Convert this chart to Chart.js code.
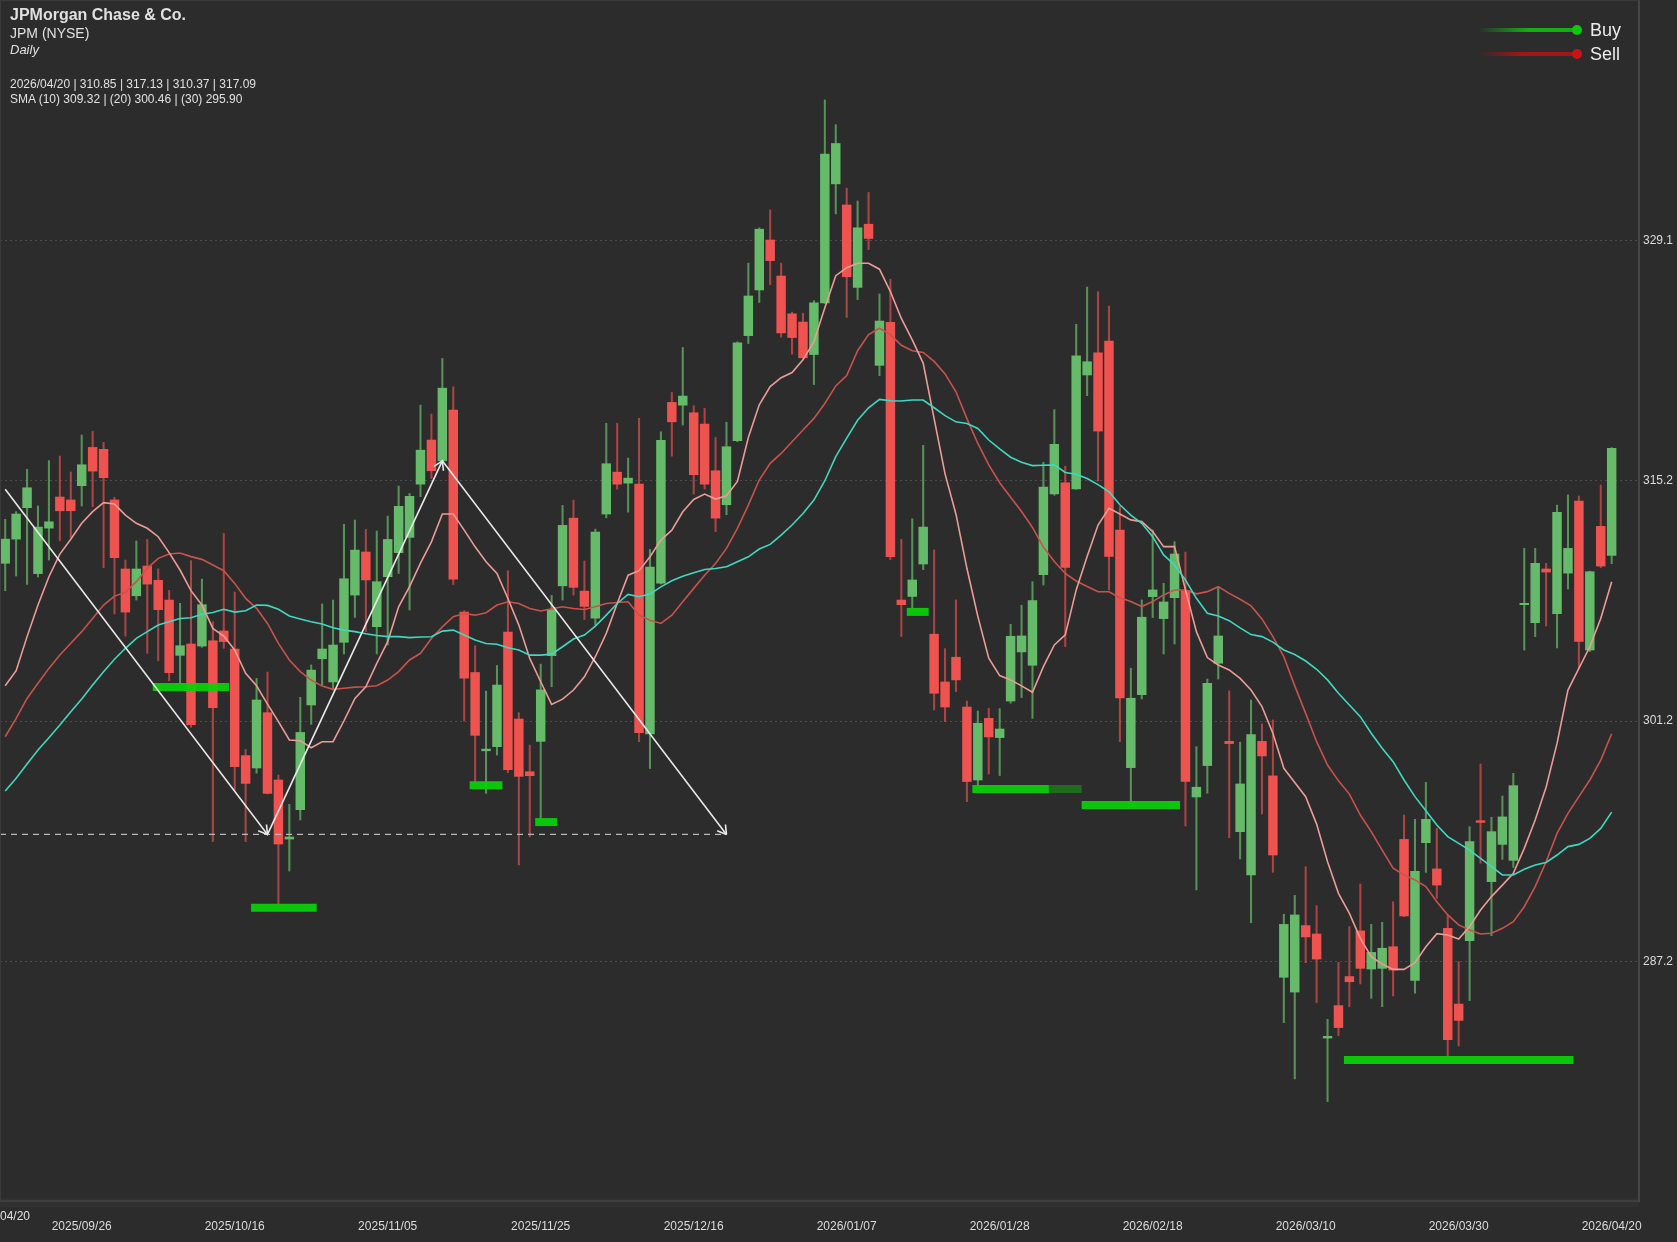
<!DOCTYPE html>
<html lang="en">
<head>
  <meta charset="UTF-8">
  <title>JPM Daily</title>
  <script src="https://cdn.jsdelivr.net/npm/chart.js"></script>
  <style>
    html, body {
      margin: 0;
      padding: 0;
      background: #2c2c2c;
    }

    #wrap {
      position: relative;
      width: 1677px;
      height: 1242px;
      overflow: hidden;
      font-family: "Liberation Sans", sans-serif;
      color: #e0e0e0;
    }

    canvas {
      position: absolute;
      left: 0;
      top: 0;
    }

    .txt {
      position: absolute;
      white-space: nowrap;
      line-height: 1;
    }

    .frame {
      position: absolute;
      left: 0;
      top: 0;
      width: 1639px;
      height: 1201px;
      border-left: 1px solid #3b3b3b;
      border-top: 1px solid #3b3b3b;
      box-sizing: border-box;
    }

    .band {
      position: absolute;
      left: 0;
      top: 1198px;
      width: 1639px;
      height: 9px;
      background: #313131;
    }

    .leg-line {
      position: absolute;
      left: 1478px;
      width: 99px;
      height: 4px;
    }

    .leg-dot {
      position: absolute;
      left: 1572px;
      width: 10px;
      height: 10px;
      border-radius: 50%;
    }
  </style>
</head>
<body>
  <div id="wrap">
    <div class="band"></div>
    <canvas id="chart" width="1677" height="1242"></canvas>
    <div class="frame"></div>

    <div class="txt" style="left:10px;top:7px;font-size:16px;font-weight:bold">JPMorgan Chase &amp; Co.</div>
    <div class="txt" style="left:10px;top:26px;font-size:14px">JPM (NYSE)</div>
    <div class="txt" style="left:10px;top:43px;font-size:13px;font-style:italic">Daily</div>
    <div class="txt" style="left:10px;top:78px;font-size:12px">2026/04/20 | 310.85 | 317.13 | 310.37 | 317.09</div>
    <div class="txt" style="left:10px;top:93px;font-size:12px">SMA (10) 309.32 | (20) 300.46 | (30) 295.90</div>
    <div class="txt" style="left:0;top:1210px;font-size:12px">04/20</div>

    <div class="leg-line" style="top:28px;background:linear-gradient(to right, rgba(15,190,15,0), #10b010 50%)"></div>
    <div class="leg-dot" style="top:25px;background:#0fc80f"></div>
    <div class="txt" style="left:1590px;top:21px;font-size:18px;color:#ececec">Buy</div>
    <div class="leg-line" style="top:52px;background:linear-gradient(to right, rgba(170,20,20,0), #a81414 45%)"></div>
    <div class="leg-dot" style="top:49px;background:#c81414"></div>
    <div class="txt" style="left:1590px;top:45px;font-size:18px;color:#ececec">Sell</div>
  </div>

  <script>
  const opens = [
    310.39,311.80,313.63,309.79,312.44,314.25,314.08,314.91,317.14,317.03,
    314.08,310.06,308.50,310.23,309.40,308.25,305.03,305.69,305.57,305.88,
    306.45,305.40,299.19,298.47,301.69,297.77,294.33,296.04,302.14,304.83,
    303.48,305.79,308.54,311.05,306.70,309.61,311.01,311.90,315.00,317.57,
    316.36,319.31,307.55,304.03,299.47,299.71,306.38,301.32,298.25,300.02,
    305.01,309.08,313.02,308.77,307.20,313.26,315.70,315.06,315.00,300.46,
    309.24,319.76,319.60,319.16,318.50,315.78,313.80,317.53,323.65,326.31,
    329.22,327.12,324.92,324.44,322.55,325.56,332.49,331.26,326.46,330.14,
    321.92,324.42,308.25,308.46,310.35,306.26,303.48,304.92,302.02,297.77,
    301.36,300.24,302.37,305.23,304.45,309.73,314.43,315.08,314.72,321.36,
    322.65,323.34,312.33,298.49,302.74,308.45,307.17,308.39,308.80,296.78,
    298.61,304.57,300.02,294.76,292.24,300.02,298.01,286.28,285.42,289.29,
    288.80,282.74,284.63,286.32,288.98,286.76,286.80,288.06,294.31,286.10,
    294.12,292.59,289.13,284.72,288.41,295.40,291.85,294.02,293.09,307.98,
    306.93,310.06,307.46,309.82,314.02,305.34,312.54,310.85
  ];
  const highs = [
    312.95,313.40,315.86,313.73,316.37,316.64,315.71,317.86,318.08,317.43,
    314.23,310.58,311.69,311.78,310.06,308.81,308.06,310.54,309.47,306.99,
    312.13,308.72,299.55,303.69,304.06,298.06,296.35,302.58,304.47,308.02,
    308.25,312.66,312.91,312.37,312.27,313.14,314.89,314.46,319.60,319.08,
    322.32,320.67,307.63,305.59,302.95,304.44,309.96,301.69,299.80,304.52,
    308.52,313.76,314.07,310.52,312.38,318.54,318.54,316.52,318.83,311.20,
    318.05,320.34,322.96,319.57,319.41,317.72,318.61,323.29,327.87,329.93,
    330.97,327.87,325.02,324.96,325.69,337.38,335.94,332.24,331.49,331.99,
    326.08,326.93,311.79,312.98,317.26,311.17,305.42,308.26,302.37,301.79,
    301.95,301.93,306.84,307.95,309.32,316.28,319.34,316.05,324.31,326.48,
    326.21,325.37,313.69,304.28,308.26,312.33,309.23,311.65,311.05,299.71,
    303.65,309.03,302.96,299.97,302.43,301.03,301.27,289.95,291.05,292.72,
    290.45,283.83,287.15,289.23,291.71,289.36,289.48,290.68,295.73,295.48,
    297.63,294.95,289.91,287.19,295.05,298.70,295.60,296.84,298.16,311.26,
    311.26,310.39,313.78,314.37,314.31,309.94,314.95,317.13
  ];
  const lows = [
    308.80,309.65,309.16,309.59,310.58,311.71,311.90,313.73,313.69,310.13,
    307.44,306.15,308.25,305.15,304.72,303.55,303.40,300.84,305.50,294.18,
    305.44,297.19,294.18,298.16,296.95,290.55,292.47,295.44,301.01,303.30,
    303.01,305.11,307.24,306.41,305.11,305.63,309.80,307.67,314.27,315.33,
    316.21,309.16,301.20,297.67,296.99,299.22,298.19,292.82,294.46,295.53,
    303.20,308.25,308.54,307.12,306.79,313.04,314.71,313.37,300.00,298.44,
    309.18,316.63,318.44,314.42,314.71,312.23,313.22,317.47,323.19,325.58,
    326.62,323.56,322.57,322.32,320.80,325.52,330.74,324.71,325.75,328.66,
    321.32,310.60,306.13,307.80,310.02,301.85,301.17,302.92,296.51,297.48,
    298.12,298.03,302.24,302.57,301.36,309.13,314.35,305.54,314.70,320.15,
    315.18,308.84,300.00,296.51,302.49,307.23,305.11,305.69,295.09,291.37,
    297.00,303.65,294.41,293.17,289.46,295.79,292.39,283.64,280.36,287.13,
    284.80,279.04,282.88,284.57,285.89,285.05,284.57,285.19,289.81,285.35,
    292.39,290.88,281.71,282.28,284.92,292.92,288.70,293.15,292.68,305.34,
    306.12,306.74,305.46,308.89,304.27,305.25,310.13,310.37
  ];
  const closes = [
    311.80,313.26,314.79,312.50,312.81,313.45,313.45,316.13,315.76,315.38,
    310.72,307.55,310.06,309.18,307.69,304.02,305.59,300.99,307.98,301.98,
    305.83,298.55,297.57,302.43,296.99,294.04,294.45,300.54,304.17,305.40,
    305.63,309.49,311.16,309.42,309.32,311.78,313.71,314.29,316.98,315.78,
    320.59,309.47,303.70,300.37,299.57,303.30,298.37,297.98,298.02,303.02,
    307.70,312.60,308.99,307.88,312.21,316.19,315.00,315.35,300.52,310.17,
    317.55,318.63,320.13,315.55,315.00,313.02,317.18,323.23,325.96,329.85,
    328.02,323.81,323.54,322.36,325.56,334.22,334.84,327.08,329.93,329.31,
    324.50,310.77,307.98,309.42,312.50,302.82,302.02,303.60,297.68,301.07,
    300.28,300.74,306.14,306.16,308.22,314.83,317.32,310.15,322.48,322.13,
    318.09,310.79,302.55,302.53,307.25,308.84,308.14,310.93,297.68,297.35,
    303.40,306.16,299.89,297.54,300.41,299.17,293.40,289.36,289.91,288.63,
    287.34,282.84,283.35,286.02,286.80,287.73,287.97,286.70,289.85,292.45,
    295.48,291.65,282.65,283.77,294.18,295.30,294.76,295.62,297.44,308.06,
    310.39,309.88,313.36,311.26,305.84,309.90,310.23,317.09
  ];
  const sma10 = [
    303.26,304.14,306.12,307.96,309.61,310.93,311.79,312.72,313.40,313.92,
    313.84,313.20,312.72,312.43,311.94,311.01,310.00,308.80,307.96,306.60,
    306.15,305.34,303.98,303.26,302.19,301.17,300.10,300.06,299.65,300.00,
    300.00,301.22,302.52,303.20,304.56,305.83,307.86,309.03,310.40,311.64,
    313.26,313.26,312.32,311.35,310.48,309.80,308.34,306.79,304.85,303.49,
    302.17,302.48,303.01,303.78,304.95,306.31,308.05,309.70,309.96,310.77,
    311.74,312.32,313.39,314.11,314.42,314.13,314.32,315.16,317.72,319.62,
    320.68,321.20,321.50,322.24,323.30,325.27,327.14,327.60,327.87,327.87,
    327.52,326.21,324.65,323.40,322.05,318.82,315.60,313.25,310.10,307.30,
    304.86,303.85,303.60,303.25,302.88,304.37,305.64,306.22,308.84,310.78,
    312.62,313.59,313.26,312.92,312.82,312.24,311.36,311.36,308.84,306.41,
    304.90,304.47,304.18,303.69,303.01,302.04,300.49,298.45,297.62,296.80,
    295.20,293.01,291.17,290.00,288.55,287.48,287.05,286.74,286.74,287.13,
    288.06,288.82,288.74,288.51,289.23,290.20,290.98,291.65,292.33,293.79,
    295.44,297.35,299.90,303.01,304.27,305.53,307.18,309.32
  ];
  const sma20 = [
    300.29,301.36,302.52,303.40,304.27,305.05,305.73,306.41,307.18,307.96,
    308.48,308.70,309.32,310.10,310.68,310.93,310.99,310.78,310.62,310.29,
    309.96,309.22,308.35,307.77,306.89,305.73,304.76,304.08,303.59,303.24,
    303.05,303.11,303.18,303.20,303.26,303.59,304.08,304.76,305.15,306.01,
    306.69,307.28,307.47,307.37,307.51,307.96,308.15,308.05,307.76,307.61,
    307.74,307.86,307.76,307.70,307.86,308.05,308.11,308.15,307.37,307.08,
    306.89,307.37,308.15,308.93,309.70,310.38,311.26,312.42,313.78,315.24,
    316.21,316.79,317.47,318.15,318.83,319.70,320.72,321.32,322.77,323.71,
    324.08,323.71,323.09,322.77,322.67,322.15,321.42,320.38,318.82,317.37,
    316.12,315.08,314.24,313.41,312.48,311.33,310.50,309.80,309.36,309.04,
    308.73,308.73,308.38,308.16,307.87,308.16,308.55,308.84,308.84,308.61,
    308.74,309.03,308.64,308.30,307.91,307.15,306.12,304.95,303.25,301.65,
    300.00,298.64,297.72,296.95,295.73,294.76,293.69,292.63,292.24,291.95,
    291.56,290.68,289.91,289.33,289.03,288.80,288.84,289.13,289.52,290.39,
    291.56,293.01,294.66,295.83,296.80,297.77,298.93,300.46
  ];
  const sma30 = [
    297.13,297.87,298.70,299.52,300.23,300.97,301.75,302.49,303.30,304.08,
    304.80,305.44,306.02,306.41,306.80,306.99,307.18,307.22,307.42,307.53,
    307.71,307.55,307.63,307.96,307.94,307.71,307.32,307.15,306.99,306.85,
    306.64,306.50,306.41,306.29,306.19,306.12,306.12,306.06,306.10,306.11,
    306.44,306.50,306.21,305.92,305.72,305.68,305.47,305.34,305.04,305.04,
    305.10,305.53,305.98,306.21,306.73,307.37,308.05,308.58,308.44,308.60,
    309.02,309.37,309.64,309.84,310.03,310.09,310.19,310.48,310.77,311.22,
    311.49,312.03,312.62,313.29,314.07,315.20,316.60,317.68,318.72,319.45,
    319.94,319.86,319.84,319.90,319.90,319.45,318.99,318.63,318.53,318.24,
    317.57,317.05,316.57,316.28,316.08,316.10,316.12,315.68,315.58,315.33,
    314.97,314.56,313.80,313.20,312.72,311.94,310.88,310.29,309.42,308.35,
    307.48,307.32,307.05,306.63,306.24,306.12,305.80,305.34,305.08,304.70,
    304.22,303.60,302.82,302.14,301.46,300.49,299.62,298.84,297.77,296.80,
    295.98,295.15,294.47,294.08,293.69,293.21,292.72,292.24,292.24,292.57,
    292.82,292.97,293.40,293.89,294.02,294.37,294.95,295.90
  ];

  // support levels, in bar numbers (half bars because they start between candles)
  const buyFrom = [13.5, 22.5, 42.5, 48.5, 82.5, 88.5, 98.5, 122.5];
  const buyTo = [20.5, 28.5, 45.5, 50.5, 84.5, 95.5, 107.5, 143.5];
  const buyLevel = [303.19, 290.33, 297.47, 295.32, 307.56, 297.25, 296.32, 281.46];
  const fadedFrom = [95.5];
  const fadedTo = [98.5];
  const fadedLevel = [297.25];

  const zigBars = [0, 24, 40, 66];
  const zigPrices = [314.70, 294.60, 316.36, 294.60];
  const dashBars = [-0.476, 66];
  const dashPrice = 294.60;

  const tickBars = [7, 21, 35, 49, 63, 77, 91, 105, 119, 133, 147];
  const tickDates = ["2025/09/26", "2025/10/16", "2025/11/05", "2025/11/25", "2025/12/16",
    "2026/01/07", "2026/01/28", "2026/02/18", "2026/03/10", "2026/03/30", "2026/04/20"];
  const priceTicks = [329.2, 315.2, 301.2, 287.2];
  const priceLabels = ["329.1", "315.2", "301.2", "287.2"];

  const UP = "#66bb6a";
  const DOWN = "#ef5350";
  const UP_WICK = "rgba(102,187,106,0.72)";
  const DOWN_WICK = "rgba(239,83,80,0.65)";

  const isUp = closes.map((c, i) => c >= opens[i]);

  function smaSet(values, color, order) {
    return {
      type: "line",
      data: values.map((v, i) => ({ x: i, y: v })),
      borderColor: color,
      borderWidth: 1.6,
      pointRadius: 0,
      tension: 0,
      order: order
    };
  }

  function levelSet(from, to, price, color) {
    return {
      type: "line",
      data: [{ x: from, y: price }, { x: to, y: price }],
      borderColor: color,
      borderWidth: 8,
      borderCapStyle: "butt",
      pointRadius: 0,
      order: 8
    };
  }

  const levelSets = buyFrom.map((f, i) => levelSet(f, buyTo[i], buyLevel[i], "rgba(10,210,10,0.93)"));
  fadedFrom.forEach((f, i) => levelSets.push(levelSet(f, fadedTo[i], fadedLevel[i], "#1f6c1f")));

  // open arrow heads on each leg of the white zigzag
  const arrowHeads = {
    id: "arrowHeads",
    afterDatasetsDraw(chart) {
      const { ctx, scales } = chart;
      ctx.save();
      ctx.strokeStyle = "#e8e8e8";
      ctx.lineWidth = 1.6;
      for (let k = 1; k < zigBars.length; k++) {
        const x = scales.x.getPixelForValue(zigBars[k]);
        const y = scales.y.getPixelForValue(zigPrices[k]);
        const px = scales.x.getPixelForValue(zigBars[k - 1]);
        const py = scales.y.getPixelForValue(zigPrices[k - 1]);
        const ang = Math.atan2(y - py, x - px);
        [-0.55, 0.55].forEach(d => {
          ctx.beginPath();
          ctx.moveTo(x, y);
          ctx.lineTo(x - 10 * Math.cos(ang + d), y - 10 * Math.sin(ang + d));
          ctx.stroke();
        });
      }
      ctx.restore();
    }
  };

  // the tick labels must not pull the plot area away from the canvas edge
  function noLabelPadding(s) {
    s.paddingLeft = 0;
    s.paddingRight = 0;
    s.paddingTop = 0;
    s.paddingBottom = 0;
  }

  Chart.defaults.font.family = '"Liberation Sans", sans-serif';
  Chart.defaults.font.size = 12;

  new Chart(document.getElementById("chart").getContext("2d"), {
    type: "bar",
    data: {
      datasets: [
        {
          data: lows.map((l, i) => ({ x: i, y: [l, highs[i]] })),
          backgroundColor: isUp.map(u => u ? UP_WICK : DOWN_WICK),
          barThickness: 1.4,
          grouped: false,
          order: 10
        },
        {
          data: opens.map((o, i) => ({ x: i, y: [o, closes[i]] })),
          backgroundColor: isUp.map(u => u ? UP : DOWN),
          barThickness: 8.8,
          grouped: false,
          order: 9
        },
        ...levelSets,
        smaSet(sma20, "#c9524c", 7),
        smaSet(sma10, "#ec9c96", 6),
        smaSet(sma30, "#40d8c2", 5),
        {
          type: "line",
          data: dashBars.map(b => ({ x: b, y: dashPrice })),
          borderColor: "#b8b8b8",
          borderWidth: 1.4,
          borderDash: [6, 5],
          pointRadius: 0,
          order: 4
        },
        {
          type: "line",
          data: zigBars.map((b, i) => ({ x: b, y: zigPrices[i] })),
          borderColor: "#e8e8e8",
          borderWidth: 1.6,
          pointRadius: 0,
          tension: 0,
          order: 3
        }
      ]
    },
    options: {
      responsive: false,
      animation: false,
      layout: { padding: { top: 1, left: 0, right: 0, bottom: 0 } },
      plugins: { legend: { display: false }, tooltip: { enabled: false } },
      scales: {
        x: {
          type: "linear",
          offset: false,
          min: -0.476,
          max: 149.5,
          grid: { display: false, drawTicks: false, offset: false },
          border: { display: true, color: "#3e3e3e", width: 2 },
          ticks: {
            autoSkip: false,
            maxRotation: 0,
            padding: 18,
            color: "#dcdcdc",
            callback: v => tickDates[tickBars.indexOf(v)] || ""
          },
          afterBuildTicks: s => { s.ticks = tickBars.map(v => ({ value: v })); },
          afterFit: s => { s.height = 41; noLabelPadding(s); }
        },
        y: {
          position: "right",
          min: 273.25,
          max: 343.14,
          grid: { color: "#4c4c4c", lineWidth: 1, drawTicks: false },
          border: { display: true, color: "#464646", width: 2, dash: [2, 3] },
          ticks: {
            padding: 4,
            color: "#dcdcdc",
            callback: v => priceLabels[priceTicks.indexOf(v)]
          },
          afterBuildTicks: s => { s.ticks = priceTicks.map(v => ({ value: v })); },
          afterFit: s => { s.width = 38; noLabelPadding(s); }
        }
      }
    },
    plugins: [arrowHeads]
  });
  </script>
</body>
</html>
